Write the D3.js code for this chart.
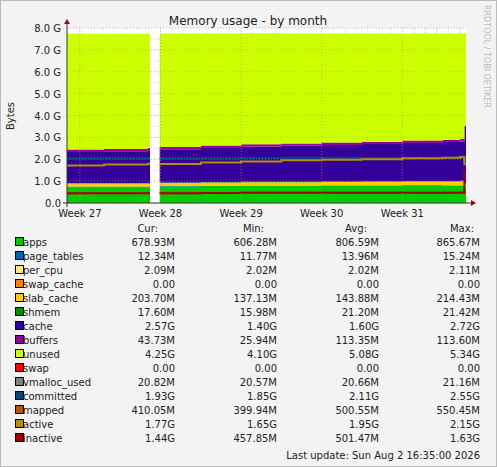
<!DOCTYPE html><html><head><meta charset="utf-8"><script src="https://cdn.jsdelivr.net/npm/d3@7"></script>
<style>body{margin:0;background:#f3f3f3}text{font-family:"DejaVu Sans",sans-serif}</style></head><body><svg id="c" width="497" height="467"></svg>
<script>
const times=[-0.16,0.3,0.84,0.99,1.5,2.0,2.5,3.0,3.5,4.0,4.5,4.72,4.77];
const gapAfter=2;
const apps=[0.74,0.74,0.74,0.76,0.78,0.79,0.79,0.80,0.80,0.81,0.80,0.80,0.68];
const pageTables=[0.012,0.012,0.012,0.013,0.013,0.014,0.014,0.014,0.014,0.015,0.015,0.015,0.012];
const slabCache=[0.14,0.14,0.14,0.14,0.14,0.15,0.15,0.15,0.16,0.16,0.17,0.18,0.20];
const shmem=[0.02,0.02,0.02,0.02,0.02,0.02,0.02,0.02,0.02,0.02,0.02,0.02,0.018];
const cache=[1.42,1.45,1.50,1.52,1.56,1.60,1.64,1.67,1.70,1.74,1.78,1.80,2.57];
const buffers=[0.11,0.11,0.11,0.11,0.11,0.11,0.11,0.11,0.11,0.11,0.11,0.11,0.044];
const unused=[5.30,5.27,5.22,5.19,5.13,5.08,5.03,4.99,4.95,4.89,4.85,4.82,4.25];
const committed=[2.05,2.05,2.05,2.05,2.05,2.06,2.07,2.07,2.06,2.06,2.07,2.07,1.93];
const active=[1.72,1.76,1.80,1.78,1.85,1.90,1.95,1.98,2.00,2.05,2.07,2.10,1.77];
const inactive=[0.45,0.45,0.45,0.45,0.46,0.47,0.47,0.47,0.47,0.47,0.47,0.48,1.44];
const mapped=[0.45,0.45,0.45,0.45,0.46,0.47,0.47,0.48,0.48,0.48,0.48,0.48,0.41];
const yTicks=["0.0","1.0 G","2.0 G","3.0 G","4.0 G","5.0 G","6.0 G","7.0 G","8.0 G"];
const weekLabels=["Week 27","Week 28","Week 29","Week 30","Week 31"];
const legend=[["apps","#00cc00","678.93M","606.28M","806.59M","865.67M"],["page_tables","#0066b3","12.34M","11.77M","13.96M","15.24M"],["per_cpu","#ffe680","2.09M","2.02M","2.02M","2.11M"],["swap_cache","#ff8000","0.00","0.00","0.00","0.00"],["slab_cache","#ffcc00","203.70M","137.13M","143.88M","214.43M"],["shmem","#008f00","17.60M","15.98M","21.20M","21.42M"],["cache","#330099","2.57G","1.40G","1.60G","2.72G"],["buffers","#990099","43.73M","25.94M","113.35M","113.60M"],["unused","#ccff00","4.25G","4.10G","5.08G","5.34G"],["swap","#ff0000","0.00","0.00","0.00","0.00"],["vmalloc_used","#808080","20.82M","20.57M","20.66M","21.16M"],["committed","#00487d","1.93G","1.85G","2.11G","2.55G"],["mapped","#b35a00","410.05M","399.94M","500.55M","550.45M"],["active","#b38f00","1.77G","1.65G","1.95G","2.15G"],["inactive","#a30000","1.44G","457.85M","501.47M","1.63G"]];
const svg=d3.select("#c");
svg.append("rect").attr("x",0.5).attr("y",0.5).attr("width",496).attr("height",466).attr("fill","#f3f3f3").attr("stroke","#bbb");
const L=67,R=466,T=28,B=203;
const x=d3.scaleLinear().domain([-0.16,4.79]).range([L,R]);
const y=d3.scaleLinear().domain([0,8]).range([B,T]);
svg.append("rect").attr("x",L).attr("y",T).attr("width",R-L).attr("height",B-T).attr("fill","#fff");
// minor grid
for(let d=0;d<5;d++)for(let k=0;k<7;k++){const xx=x(d+k/7-1);if(xx>L&&xx<R)svg.append("line").attr("x1",xx).attr("x2",xx).attr("y1",T).attr("y2",B).attr("stroke","#ddd").attr("stroke-dasharray","1,1");}
for(let d=1;d<=7;d++)for(let k=0;k<7;k++){const xx=x(4+d/7);if(xx<R)svg.append("line").attr("x1",xx).attr("x2",xx).attr("y1",T).attr("y2",B).attr("stroke","#ddd").attr("stroke-dasharray","1,1");}
for(let v=0.5;v<8;v+=0.5)svg.append("line").attr("x1",L).attr("x2",R).attr("y1",y(v)).attr("y2",y(v)).attr("stroke","#ddd").attr("stroke-dasharray","1,1");
// data
const series=[apps,pageTables,slabCache,shmem,cache,buffers,unused];
const cols=["#00cc00","#0066b3","#ffcc00","#008f00","#330099","#990099","#ccff00"];
const rows=times.map((t,i)=>{const o={t,i};series.forEach((s,j)=>o["s"+j]=s[i]);return o;});
const stack=d3.stack().keys(series.map((s,j)=>"s"+j))(rows);
const segs=[[0,gapAfter+1],[gapAfter+1,times.length]];
const endT=4.79;
function segData(arr,a,b,end){const d=arr.slice(a,b);return d;}
const area=d3.area().curve(d3.curveStepAfter).x(d=>x(d.data.t)).y0(d=>y(d[0])).y1(d=>y(d[1]));
stack.forEach((layer,j)=>{segs.forEach(([a,b],si)=>{let d=layer.slice(a,b);const last=d[d.length-1];const ext=Object.assign([last[0],last[1]],{data:{t:si==0?0.87:endT}});d=d.concat([ext]);svg.append("path").attr("d",area(d)).attr("fill",cols[j]);});});
const line=d3.line().curve(d3.curveStepAfter).x(d=>x(d[0])).y(d=>y(d[1]));
[[committed,"#00487d"],[mapped,"#b35a00"],[active,"#b38f00"],[inactive,"#a30000"]].forEach(([s,c])=>{segs.forEach(([a,b],si)=>{const d=times.slice(a,b).map((t,k)=>[t,s[a+k]]);d.push([si==0?0.87:endT,s[b-1]]);svg.append("path").attr("d",line(d)).attr("fill","none").attr("stroke",c).attr("stroke-width",2);});});
// major grid
weekLabels.forEach((w,i)=>svg.append("line").attr("x1",x(i)).attr("x2",x(i)).attr("y1",T).attr("y2",B).attr("stroke","#e08080").attr("stroke-dasharray","1,2").attr("opacity",0.6));
yTicks.forEach((t,i)=>svg.append("line").attr("x1",L).attr("x2",R).attr("y1",y(i)).attr("y2",y(i)).attr("stroke","#e08080").attr("stroke-dasharray","1,2").attr("opacity",0.6));
// axes
svg.append("line").attr("x1",L-4).attr("x2",R+6).attr("y1",B).attr("y2",B).attr("stroke","#333");
svg.append("line").attr("x1",L).attr("x2",L).attr("y1",B+4).attr("y2",T-6).attr("stroke","#333");
svg.append("path").attr("d",`M${R+5},${B-3}L${R+10},${B}L${R+5},${B+3}Z`).attr("fill","#a00");
svg.append("path").attr("d",`M${L-3},${T-4}L${L},${T-9}L${L+3},${T-4}Z`).attr("fill","#a00");
yTicks.forEach((t,i)=>svg.append("text").attr("x",L-6).attr("y",y(i)+4).attr("text-anchor","end").attr("font-size",10).attr("fill","#222").text(t));
weekLabels.forEach((w,i)=>svg.append("text").attr("x",x(i)).attr("y",B+14).attr("text-anchor","middle").attr("font-size",10).attr("fill","#222").text(w));
svg.append("text").attr("x",248).attr("y",25).attr("text-anchor","middle").attr("font-size",12).attr("fill","#222").text("Memory usage - by month");
svg.append("text").attr("transform","translate(14,116) rotate(-90)").attr("text-anchor","middle").attr("font-size",10).attr("fill","#222").text("Bytes");
svg.append("text").attr("transform","translate(484,5) rotate(90)").attr("font-size",8).attr("fill","#bbb").text("RRDTOOL / TOBI OETIKER");
// legend
[["Cur:",158],["Min:",264],["Avg:",367],["Max:",474]].forEach(([h,xx])=>svg.append("text").attr("x",xx).attr("y",232).attr("text-anchor","end").attr("font-size",10).attr("fill","#222").text(h));
const vx=[175,277,379,480];
legend.forEach((r,i)=>{const yy=246+i*14;svg.append("rect").attr("x",15.5).attr("y",yy-8.5).attr("width",8).attr("height",8).attr("fill",r[1]).attr("stroke","#000");
svg.append("text").attr("x",23).attr("y",yy).attr("font-size",10).attr("fill","#222").text(r[0]);
for(let k=0;k<4;k++)svg.append("text").attr("x",vx[k]).attr("y",yy).attr("text-anchor","end").attr("font-size",10).attr("fill","#222").text(r[2+k]);});
svg.append("text").attr("x",480).attr("y",459).attr("text-anchor","end").attr("font-size",10).attr("fill","#222").text("Last update: Sun Aug  2 16:35:00 2026");
</script></body></html>
